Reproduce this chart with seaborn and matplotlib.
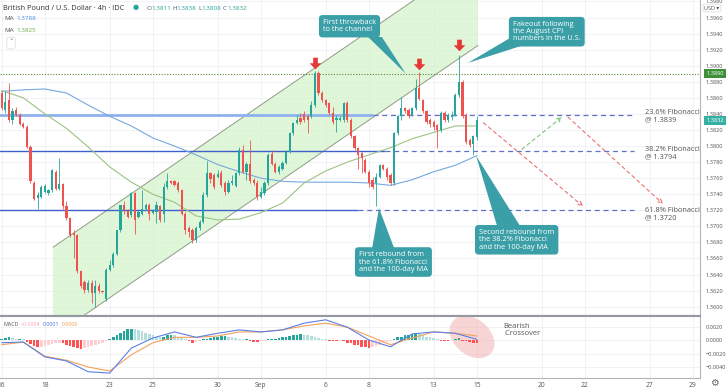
import numpy as np
import pandas as pd
import matplotlib
matplotlib.use("Agg")
import matplotlib.pyplot as plt
import seaborn as sns
from matplotlib.patches import Polygon, Ellipse
from matplotlib.path import Path
from matplotlib import transforms

# GBP/USD 4h candles, Aug 16 -> Sep 15
opens = [1.3866, 1.3845, 1.3857, 1.3832, 1.3845, 1.3839, 1.3828, 1.3824, 1.3799, 1.3754,
         1.3735, 1.3737, 1.3743, 1.3741, 1.3745, 1.3768, 1.3747, 1.3753, 1.3725, 1.3710,
         1.3692, 1.3689, 1.3645, 1.3631, 1.3621, 1.3630, 1.3617, 1.3626, 1.3619, 1.3609,
         1.3646, 1.3652, 1.3666, 1.3695, 1.3727, 1.3719, 1.3714, 1.3742, 1.3712, 1.3716,
         1.3722, 1.3726, 1.3717, 1.3718, 1.3725, 1.3715, 1.3749, 1.3756, 1.3756, 1.3754,
         1.3745, 1.3716, 1.3698, 1.3695, 1.3683, 1.3698, 1.3706, 1.3739, 1.3766, 1.3764,
         1.3762, 1.3766, 1.3754, 1.3743, 1.3754, 1.3750, 1.3766, 1.3795, 1.3768, 1.3778,
         1.3758, 1.3754, 1.3737, 1.3741, 1.3754, 1.3790, 1.3778, 1.3768, 1.3772, 1.3779,
         1.3793, 1.3816, 1.3829, 1.3835, 1.3840, 1.3837, 1.3837, 1.3851, 1.3891, 1.3866,
         1.3857, 1.3853, 1.3841, 1.3832, 1.3833, 1.3832, 1.3853, 1.3832, 1.3812, 1.3797,
         1.3791, 1.3783, 1.3768, 1.3758, 1.3754, 1.3762, 1.3776, 1.3772, 1.3764, 1.3754,
         1.3816, 1.3837, 1.3847, 1.3845, 1.3839, 1.3847, 1.3872, 1.3857, 1.3843, 1.3832,
         1.3830, 1.3826, 1.3820, 1.3841, 1.3832, 1.3836, 1.3839, 1.3864, 1.3880, 1.3839,
         1.3807, 1.3803, 1.3811]
highs = [1.3868, 1.3868, 1.3879, 1.3847, 1.3849, 1.3841, 1.3830, 1.3826, 1.3801, 1.3756,
         1.3743, 1.3751, 1.3753, 1.3747, 1.3772, 1.3770, 1.3785, 1.3754, 1.3731, 1.3712,
         1.3695, 1.3691, 1.3646, 1.3633, 1.3633, 1.3633, 1.3633, 1.3629, 1.3621, 1.3648,
         1.3658, 1.3668, 1.3696, 1.3727, 1.3731, 1.3722, 1.3743, 1.3743, 1.3720, 1.3745,
         1.3729, 1.3729, 1.3722, 1.3731, 1.3727, 1.3754, 1.3766, 1.3758, 1.3758, 1.3756,
         1.3747, 1.3718, 1.3700, 1.3698, 1.3700, 1.3708, 1.3743, 1.3781, 1.3768, 1.3766,
         1.3770, 1.3770, 1.3756, 1.3758, 1.3764, 1.3768, 1.3799, 1.3801, 1.3780, 1.3808,
         1.3760, 1.3758, 1.3749, 1.3756, 1.3791, 1.3795, 1.3780, 1.3776, 1.3781, 1.3795,
         1.3818, 1.3830, 1.3839, 1.3841, 1.3843, 1.3839, 1.3856, 1.3893, 1.3893, 1.3869,
         1.3859, 1.3855, 1.3849, 1.3839, 1.3837, 1.3855, 1.3856, 1.3835, 1.3814, 1.3799,
         1.3793, 1.3785, 1.3770, 1.3762, 1.3766, 1.3778, 1.3778, 1.3774, 1.3766, 1.3818,
         1.3839, 1.3861, 1.3849, 1.3847, 1.3849, 1.3884, 1.3892, 1.3859, 1.3845, 1.3835,
         1.3832, 1.3828, 1.3843, 1.3843, 1.3841, 1.3843, 1.3866, 1.3913, 1.3882, 1.3841,
         1.3810, 1.3814, 1.3838]
lows = [1.3845, 1.3841, 1.3830, 1.3828, 1.3837, 1.3826, 1.3822, 1.3797, 1.3754, 1.3733,
        1.3722, 1.3735, 1.3741, 1.3739, 1.3743, 1.3745, 1.3745, 1.3722, 1.3708, 1.3687,
        1.3660, 1.3642, 1.3623, 1.3617, 1.3618, 1.3604, 1.3600, 1.3617, 1.3617, 1.3607,
        1.3644, 1.3650, 1.3664, 1.3693, 1.3716, 1.3710, 1.3712, 1.3691, 1.3710, 1.3714,
        1.3720, 1.3708, 1.3715, 1.3704, 1.3706, 1.3706, 1.3747, 1.3753, 1.3750, 1.3743,
        1.3714, 1.3691, 1.3687, 1.3679, 1.3681, 1.3695, 1.3704, 1.3737, 1.3754, 1.3747,
        1.3760, 1.3749, 1.3739, 1.3741, 1.3751, 1.3749, 1.3764, 1.3766, 1.3758, 1.3754,
        1.3751, 1.3733, 1.3735, 1.3739, 1.3751, 1.3776, 1.3766, 1.3765, 1.3770, 1.3778,
        1.3791, 1.3814, 1.3828, 1.3828, 1.3830, 1.3816, 1.3835, 1.3849, 1.3864, 1.3855,
        1.3849, 1.3839, 1.3828, 1.3818, 1.3831, 1.3830, 1.3830, 1.3810, 1.3795, 1.3772,
        1.3766, 1.3766, 1.3749, 1.3747, 1.3725, 1.3760, 1.3770, 1.3758, 1.3751, 1.3751,
        1.3814, 1.3832, 1.3841, 1.3835, 1.3837, 1.3845, 1.3857, 1.3841, 1.3828, 1.3824,
        1.3820, 1.3797, 1.3818, 1.3830, 1.3830, 1.3832, 1.3837, 1.3861, 1.3835, 1.3803,
        1.3799, 1.3789, 1.3808]
closes = [1.3847, 1.3855, 1.3832, 1.3843, 1.3839, 1.3828, 1.3824, 1.3799, 1.3756, 1.3734,
          1.3739, 1.3749, 1.3750, 1.3745, 1.3770, 1.3747, 1.3753, 1.3725, 1.3710, 1.3689,
          1.3689, 1.3645, 1.3626, 1.3621, 1.3630, 1.3617, 1.3626, 1.3619, 1.3618, 1.3646,
          1.3652, 1.3666, 1.3695, 1.3726, 1.3720, 1.3712, 1.3741, 1.3708, 1.3718, 1.3722,
          1.3727, 1.3716, 1.3719, 1.3726, 1.3708, 1.3749, 1.3756, 1.3754, 1.3751, 1.3745,
          1.3716, 1.3695, 1.3693, 1.3683, 1.3698, 1.3706, 1.3739, 1.3766, 1.3759, 1.3749,
          1.3765, 1.3751, 1.3743, 1.3754, 1.3756, 1.3766, 1.3795, 1.3768, 1.3778, 1.3756,
          1.3754, 1.3737, 1.3743, 1.3754, 1.3789, 1.3778, 1.3768, 1.3774, 1.3779, 1.3793,
          1.3816, 1.3829, 1.3832, 1.3830, 1.3833, 1.3832, 1.3851, 1.3891, 1.3866, 1.3857,
          1.3851, 1.3841, 1.3830, 1.3835, 1.3835, 1.3853, 1.3832, 1.3812, 1.3797, 1.3789,
          1.3785, 1.3768, 1.3754, 1.3749, 1.3762, 1.3776, 1.3772, 1.3762, 1.3754, 1.3816,
          1.3837, 1.3847, 1.3843, 1.3837, 1.3847, 1.3872, 1.3859, 1.3843, 1.3830, 1.3828,
          1.3824, 1.3820, 1.3841, 1.3833, 1.3839, 1.3839, 1.3864, 1.3880, 1.3837, 1.3805,
          1.3801, 1.3812, 1.3832]

# moving averages, one reading per trading day (every 6th candle)
ma_idx = list(range(0, 133, 6))
ma_slow = [1.3868, 1.3870, 1.3871, 1.3866, 1.3851, 1.3837, 1.3825, 1.3810, 1.3800, 1.3789,
           1.3777, 1.3768, 1.3760, 1.3756, 1.3755, 1.3755, 1.3755, 1.3754, 1.3751, 1.3758,
           1.3768, 1.3776, 1.3788]
ma_fast = [1.3869, 1.3860, 1.3840, 1.3822, 1.3799, 1.3774, 1.3755, 1.3740, 1.3730, 1.3713,
           1.3708, 1.3709, 1.3717, 1.3729, 1.3754, 1.3769, 1.3780, 1.3789, 1.3798, 1.3809,
           1.3817, 1.3825, 1.3825]

# MACD (daily readings for the lines, one bar per candle)
macd_line = [-0.0004, -0.0003, -0.0025, -0.0031, -0.0047, -0.0049, -0.0012, 0.0003, 0.0012, 0.0004,
             0.0010, 0.0015, 0.0012, 0.0015, 0.0025, 0.0030, 0.0019, 0.0000, -0.0010, 0.0009,
             0.0012, 0.0010, 0.0001]
macd_signal = [-0.0007, -0.0003, -0.0024, -0.0030, -0.0040, -0.0046, -0.0022, -0.0004, 0.0004, 0.0004,
               0.0006, 0.0012, 0.0012, 0.0015, 0.0021, 0.0025, 0.0019, 0.0006, -0.0007, 0.0003,
               0.0012, 0.0010, 0.0006]
macd_hist = [0.0002, 0.0003, 0.0004, 0.0003, 0.0002, 0.0002, 0.0001,
             -0.0003, -0.0006, -0.0009, -0.0011,
             -0.0010, -0.0009, -0.0008, -0.0006, -0.0005, -0.0004,
             -0.0005, -0.0007, -0.0009, -0.0010, -0.0012, -0.0013,
             -0.0012, -0.0011, -0.0009, -0.0008, -0.0006, -0.0004, -0.0002,
             0.0002, 0.0005, 0.0008, 0.0011, 0.0014, 0.0016, 0.0017,
             0.0016, 0.0015, 0.0013, 0.0011, 0.0009, 0.0007, 0.0005, 0.0004,
             0.0005, 0.0007, 0.0008,
             0.0007, 0.0005, 0.0003, 0.0001,
             -0.0002, -0.0004, -0.0003, -0.0001,
             0.0001, 0.0002, 0.0003, 0.0004, 0.0005, 0.0006, 0.0006,
             0.0005, 0.0004, 0.0003, 0.0002, 0.0001, 0.0001,
             -0.0002, -0.0003, -0.0003, -0.0002,
             -0.0001, 0.0001, 0.0002, 0.0002, 0.0003,
             0.0004, 0.0005, 0.0006, 0.0007, 0.0008, 0.0009,
             0.0008, 0.0007, 0.0006, 0.0005, 0.0003, 0.0002, 0.0001,
             -0.0001, -0.0002, -0.0002, -0.0001,
             -0.0002, -0.0004, -0.0005, -0.0007, -0.0008, -0.0010, -0.0011, -0.0012,
             -0.0011, -0.0009, -0.0007, -0.0005, -0.0003, -0.0001,
             0.0002, 0.0004, 0.0005, 0.0007, 0.0008, 0.0009, 0.0010,
             0.0009, 0.0007, 0.0005, 0.0004, 0.0003, 0.0001,
             -0.0001, -0.0001, -0.0001, 0.0000,
             0.0002, 0.0003,
             -0.0001, -0.0002, -0.0003, -0.0004, -0.0005]

date_ticks = [0, 12, 30, 42, 60, 72, 90, 102, 120, 132, 150, 162, 180, 192]
date_labels = ['16', '18', '23', '25', '30', 'Sep', '6', '8', '13', '15', '20', '22', '27', '29']

fib_levels = [1.3839, 1.3794, 1.3720]
fib_names = ['23.6% Fibonacci\n@ 1.3839', '38.2% Fibonacci\n@ 1.3794', '61.8% Fibonacci\n@ 1.3720']
fib_solid_end = [103, 106.5, 99]
fib_label_y = [1.3837, 1.3791, 1.3715]

# drawings on the chart (candle index, price)
chan_upper = [(14.25, 1.3674), (114.6, 1.39818)]
chan_lower = [(22.6, 1.35884), (132.3, 1.39252)]
peak_idx = [87, 116, 127]
peak_arrow_y = [1.3903, 1.3902, 1.3926]

TEAL = '#3a9fa6'
GREEN = '#26a69a'
RED = '#ef5350'
W, H = 728, 391

sns.set_theme(style='white')
plt.rcParams['font.family'] = ['Open Sans', 'DejaVu Sans']

fig = plt.figure(figsize=(W / 100, H / 100), dpi=100)
ax = fig.add_axes([0, 1 - 316 / H, 700 / W, 316 / H])
axm = fig.add_axes([0, 1 - 378 / H, 700 / W, 62 / H], sharex=ax)

def ftext(x, y, s, **kw):
    kw.setdefault('va', 'center')
    return fig.text(x / W, 1 - y / H, s, **kw)

def text_row(x, y, parts, size, gap):
    # place coloured pieces one after another
    r = fig.canvas.get_renderer()
    for s, c in parts:
        t = ftext(x, y, s, fontsize=size, color=c)
        x = t.get_window_extent(renderer=r).x1 + gap

# ---- price panel ----
df = pd.DataFrame({'open': opens, 'high': highs, 'low': lows, 'close': closes})
df['idx'] = np.arange(len(df))
cols = np.where(df['close'] >= df['open'], GREEN, RED)
ax.vlines(df['idx'], df['low'], df['high'], colors=cols, lw=0.6, zorder=4)
body = (df['close'] - df['open']).abs().clip(lower=0.00005)
ax.bar(df['idx'], body, bottom=df[['open', 'close']].min(axis=1), width=0.62,
       color=cols, lw=0, zorder=5)

ma = pd.DataFrame({'idx': ma_idx, 'slow': ma_slow, 'fast': ma_fast})
sns.lineplot(data=ma, x='idx', y='slow', ax=ax, color='#74a9e0', lw=0.8, zorder=3)
sns.lineplot(data=ma, x='idx', y='fast', ax=ax, color='#9cc383', lw=0.8, zorder=3)

# channel
(ux0, uy0), (ux1, uy1) = chan_upper
(lx0, ly0), (lx1, ly1) = chan_lower
ybot, ytop = 1.35884, 1.39818
ax.add_patch(Polygon([(ux0, ybot), (ux0, uy0), (ux1, uy1), (lx1, ytop), (lx1, ly1), (lx0, ly0)],
                     closed=True, fc='#d6f3cc', ec='none', alpha=0.75, zorder=1))
ax.plot([ux0, ux1], [uy0, uy1], color='#8f9c86', lw=0.7, zorder=2)
ax.plot([lx0, lx1], [ly0, ly1], color='#8f9c86', lw=0.7, zorder=2)

# fibonacci levels
ax.hlines(fib_levels[0], -1, fib_solid_end[0], color='#8fb1ee', lw=2.0, zorder=2)
ax.hlines(fib_levels[1], -1, fib_solid_end[1], color='#3f5fcf', lw=1.0, zorder=2)
ax.hlines(fib_levels[2], -1, fib_solid_end[2], color='#3f5fcf', lw=1.0, zorder=2)
for lv, s, ly, name in zip(fib_levels, fib_solid_end, fib_label_y, fib_names):
    ax.hlines(lv, s, 175.5, color='#6070c8', lw=0.9, linestyles=(0, (4, 3)), zorder=2)
    ax.text(178.6, ly, name, fontsize=5.3, color='#555', va='center', ha='left', linespacing=1.0)

ax.axhline(1.3890, color='#5a8a3a', lw=0.8, ls=(0, (1, 1.5)), zorder=2)

# projections
def proj(p0, p1, c):
    ax.annotate('', xy=p1, xytext=p0, zorder=6,
                arrowprops=dict(arrowstyle='->', color=c, lw=0.8, ls=(0, (3, 3)),
                                shrinkA=0, shrinkB=0, mutation_scale=7))
proj((133.8, 1.3829), (161.5, 1.3725), '#ec7070')
proj((144.5, 1.3796), (155.6, 1.3836), '#7cc47c')
proj((157.3, 1.3836), (183.7, 1.3728), '#ec7070')

# red arrows over the peaks
arrow = Path([(-0.2, 0.5), (0.2, 0.5), (0.2, 0.02), (0.5, 0.02), (0, -0.5),
              (-0.5, 0.02), (-0.2, 0.02), (-0.2, 0.5)])
ax.scatter(peak_idx, peak_arrow_y, marker=arrow, s=70, color='#e53935', lw=0, zorder=7)

# callouts
def callout(tx, ty, text, wedge):
    ax.add_patch(Polygon(wedge, closed=True, fc=TEAL, ec='none', zorder=8))
    ax.text(tx, ty, text, fontsize=5.3, color='white', ha='left', va='top', linespacing=1.05,
            zorder=9, bbox=dict(boxstyle='round,pad=0.55,rounding_size=0.5', fc=TEAL, ec='none'))

callout(89.25, 1.3958, 'First throwback\nto the channel',
        [(101.8, 1.39357), (105.6, 1.39357), (112.3, 1.38897)])
callout(142.0, 1.39557, 'Fakeout following\nthe August CPI\nnumbers in the U.S.',
        [(141.2, 1.39345), (145.1, 1.39258), (129.5, 1.39034)])
callout(99.25, 1.3669, 'First rebound from\nthe 61.8% Fibonacci\nand the 100-day MA',
        [(102.9, 1.3673), (109.0, 1.3673), (104.8, 1.37228)])
callout(132.6, 1.36967, 'Second rebound from\nthe 38.2% Fibonacci\nand the 100-day MA',
        [(137.6, 1.37004), (144.0, 1.37004), (131.8, 1.37876)])

ax.set_ylim(ybot, ytop)
ax.set_xlim(-0.47, 193.97)
ax.set_yticks(np.round(np.arange(1.3600, 1.3981, 0.0020), 4))
ax.set_yticklabels([f'{v:.4f}' for v in np.arange(1.3600, 1.3981, 0.0020)])
ax.yaxis.tick_right()
ax.tick_params(axis='y', length=0, labelsize=4.1, colors='#555', pad=4)
ax.tick_params(axis='x', length=0, labelbottom=False)
ax.set_xticks(date_ticks)
ax.grid(True, color='#eef0f4', lw=0.6)
ax.set_xlabel('')
ax.set_ylabel('')

# last-price tags
bt = transforms.blended_transform_factory(ax.transAxes, ax.transData)
ax.text(1.009, 1.3890, '1.3890', transform=bt, fontsize=4.1, color='white', va='center', ha='left',
        bbox=dict(boxstyle='square,pad=0.35', fc='#3f8f3a', ec='none'), clip_on=False, zorder=10)
ax.text(1.009, 1.3832, '1.3832', transform=bt, fontsize=4.1, color='white', va='center', ha='left',
        bbox=dict(boxstyle='square,pad=0.35', fc='#35b0a4', ec='none'), clip_on=False, zorder=10)

for s in ['top', 'left']:
    ax.spines[s].set_visible(False)
ax.spines['right'].set_color('#b2b5be')
ax.spines['right'].set_linewidth(0.8)
ax.spines['bottom'].set_color('#9598a1')
ax.spines['bottom'].set_linewidth(1.5)

# ---- MACD panel ----
x = np.arange(len(macd_hist))
hist = np.array(macd_hist)
prev = np.r_[hist[0], hist[:-1]]
hcol = np.where(hist >= 0, np.where(hist >= prev, '#26a69a', '#b2dfdb'),
                np.where(hist <= prev, '#ff5252', '#ffcdd2'))
axm.bar(x, hist, width=0.75, color=hcol, lw=0, zorder=2)
md = pd.DataFrame({'idx': ma_idx, 'macd': macd_line, 'signal': macd_signal})
sns.lineplot(data=md, x='idx', y='signal', ax=axm, color='#f5a15a', lw=0.8, zorder=3)
sns.lineplot(data=md, x='idx', y='macd', ax=axm, color='#5b7fe6', lw=0.8, zorder=4)

axm.add_patch(Ellipse((4.72, (H - 337) / 100), 0.5, 0.36, angle=-40, transform=fig.dpi_scale_trans,
                      fc='#f3b3b3', ec='none', alpha=0.55, zorder=1.5))

axm.set_ylim(-0.00563, 0.00356)
axm.set_yticks([0.002, 0.0, -0.002, -0.004])
axm.set_yticklabels(['0.0020', '0.0000', '\u22120.0020', '\u22120.0040'])
axm.yaxis.tick_right()
axm.tick_params(axis='y', length=0, labelsize=4.1, colors='#555', pad=4)
axm.set_xticks(date_ticks)
axm.set_xticklabels(date_labels)
axm.tick_params(axis='x', length=0, labelsize=4.8, colors='#555', pad=3)
axm.grid(True, color='#eef0f4', lw=0.6)
axm.set_xlabel('')
axm.set_ylabel('')
axm.spines['left'].set_visible(False)
axm.spines['top'].set_color('#9598a1')
axm.spines['top'].set_linewidth(1.5)
for s in ['right', 'bottom']:
    axm.spines[s].set_color('#b2b5be')
    axm.spines[s].set_linewidth(0.8)

# ---- header / legend texts ----
ftext(3, 8, 'British Pound / U.S. Dollar \u00b7 4h \u00b7 IDC', fontsize=5.3, color='#333')
ftext(136, 8, '\u25cf', fontsize=5, color='#26a69a', ha='center')
for lx, letter, vx, val in [(147, 'O', 151, '1.3811'), (172, 'H', 176, '1.3838'),
                            (198, 'L', 201.5, '1.3808'), (223, 'C', 227, '1.3832')]:
    ftext(lx, 8, letter, fontsize=4.5, color='#555')
    ftext(vx, 8, val, fontsize=4.5, color='#26a69a')
ftext(4, 19, 'MA', fontsize=4.5, color='#555')
ftext(16, 19, '1.3788', fontsize=4.5, color='#4a8fe0')
ftext(4, 31, 'MA', fontsize=4.5, color='#555')
ftext(16, 31, '1.3825', fontsize=4.5, color='#6aaa4a')
ftext(11, 43, '\u02c4', fontsize=5, color='#555', ha='center',
      bbox=dict(boxstyle='round,pad=0.35', fc='white', ec='#d5d8de', lw=0.5))
ftext(712, 8, 'USD \u25be', fontsize=4.0, color='#555', ha='center',
      bbox=dict(boxstyle='round,pad=0.25', fc='white', ec='#d5d8de', lw=0.5))

text_row(3, 324, [('MACD', '#555'), ('\u22120.0004', '#f5a0aa'),
                  ('0.0001', '#4a6ee0'), ('0.0006', '#f0a04b')], 3.9, 2.5)
ftext(503, 330, 'Bearish\n Crossover', fontsize=5.5, color='#555', ha='left', linespacing=1.05)
ftext(714, 384, '\u2699', fontsize=7, color='#666', ha='center')

fig.savefig('out.png', dpi=100)
